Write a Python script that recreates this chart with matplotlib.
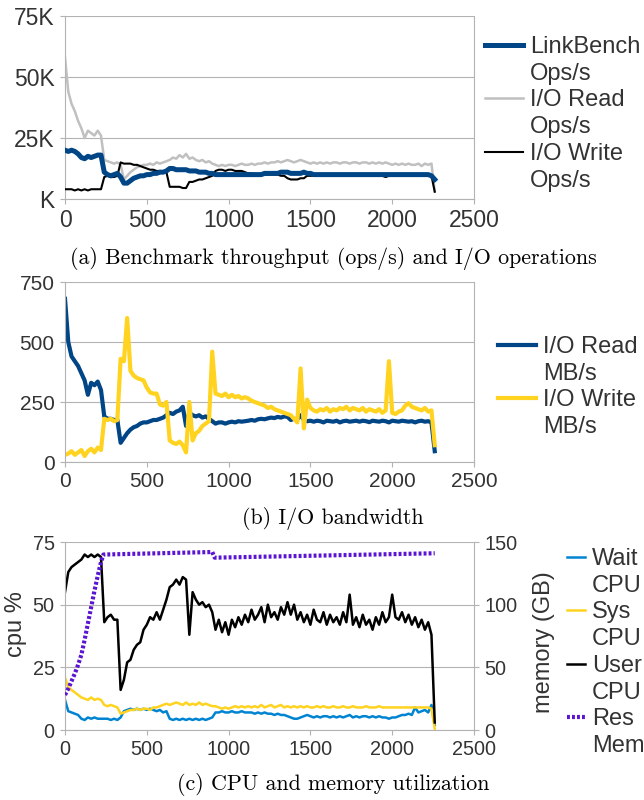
import numpy as np
import matplotlib
matplotlib.use("Agg")
import matplotlib.pyplot as plt
from matplotlib.lines import Line2D

plt.rcParams['font.family'] = ['Liberation Sans', 'DejaVu Sans']

# ---- data (sampled every 20 s) ----
STEP = 20

# (a) throughput, K ops/s
linkbench_ops = [20, 19.5, 20, 19.5, 18.5, 17, 16.5, 17.5, 17, 17.5,
                 18, 18, 11, 10, 9.5, 10, 10.5, 9, 6.5, 6.5,
                 7.5, 8.5, 9, 9.5, 9.5, 10, 10, 10.5, 10.5, 11,
                 11, 11.5, 12.5, 12.5, 12, 12, 12, 12, 11.5, 11.5,
                 11.5, 11, 11, 11, 10.5, 10.5, 10, 10, 10, 10,
                 10, 10, 10, 10, 10, 10, 10, 10, 10, 10,
                 10, 10.5, 10.5, 10.5, 10.5, 10.5, 11, 11, 11, 10.5,
                 10.5, 10.5, 10.5, 11, 10.5, 10.5, 10, 10, 10, 10,
                 10, 10, 10, 10, 10, 10, 10, 10, 10, 10,
                 10, 10, 10, 10, 10, 10, 10, 10, 10, 10,
                 10, 10, 10, 10, 10, 10, 10, 10, 10, 10,
                 10, 10, 9.5, 8]
read_ops = [58, 44, 39, 36, 32, 29, 25, 28, 27, 26,
            28, 26, 16, 15.5, 15, 14.5, 15, 14, 8, 9.5,
            11, 12, 13, 13.5, 14, 14, 14.5, 14, 15, 14.5,
            15, 15.5, 16, 17, 16.5, 18, 17, 18.5, 16.5, 17,
            16, 15.5, 16, 15, 15.5, 14.5, 14, 13.5, 14, 13.5,
            14, 14, 13.5, 14, 14.5, 14, 14, 14.5, 14, 14.5,
            14.5, 15, 14.5, 15, 15, 15.5, 15, 15.5, 16, 15.5,
            15, 15.5, 16, 15.5, 15, 14.5, 15, 14.5, 15, 14.5,
            15, 14.5, 15, 15, 14.5, 15, 15, 14.5, 15, 15,
            14.5, 15, 15, 14.5, 15, 14.5, 15, 14.5, 15, 14.5,
            14, 14.5, 14, 14.5, 14, 14.5, 14, 14, 14.5, 13.5,
            14.5, 14, 14.5, 3]
write_ops = [4, 4, 4, 3.5, 4, 3.5, 4, 3.5, 4, 4,
             4, 4, 9, 9.5, 9, 9, 9.5, 15, 14.5, 14.5,
             14.5, 14, 14, 13.5, 13, 12.5, 12, 12, 11.5, 11.5,
             11, 11, 5, 5, 5, 5, 4.5, 4.5, 7, 7,
             7.5, 8, 8, 8.5, 9, 9.5, 11.5, 12, 12, 11.5,
             12, 12, 11.5, 11.5, 11.5, 11, 10.5, 10.5, 10, 10,
             10, 10, 10, 10, 10, 10, 9.5, 9.5, 8.5, 8,
             8, 8, 8.5, 8.5, 9.5, 9.5, 9.5, 9.5, 9.5, 9.5,
             9.5, 9.5, 9.5, 9.5, 9.5, 9.5, 9.5, 9.5, 9.5, 9.5,
             9.5, 9.5, 9.5, 9.5, 9.5, 9.5, 9.5, 9.5, 9, 9.5,
             9.5, 9.5, 9.5, 9.5, 9.5, 9.5, 9.5, 9.5, 9.5, 9.5,
             9.5, 9.5, 9.5, 3]

# (b) bandwidth, MB/s
read_mb = [680, 500, 440, 420, 400, 370, 340, 280, 330, 320,
           335, 300, 190, 180, 180, 175, 175, 80, 100, 120,
           135, 145, 150, 160, 165, 165, 170, 175, 175, 180,
           185, 195, 205, 200, 210, 215, 230, 150, 205, 195,
           190, 195, 185, 190, 180, 170, 160, 165, 165, 160,
           165, 168, 165, 170, 168, 170, 172, 175, 172, 178,
           180, 178, 182, 185, 183, 188, 185, 190, 188, 175,
           180, 178, 195, 175, 170, 172, 168, 172, 170, 165,
           172, 170, 168, 172, 165, 170, 172, 168, 170, 172,
           168, 172, 170, 166, 172, 170, 168, 172, 170, 165,
           172, 170, 168, 172, 170, 168, 170, 165, 170, 172,
           168, 170, 165, 45]
write_mb = [30, 35, 45, 30, 40, 50, 25, 45, 55, 40,
            60, 50, 180, 175, 180, 170, 175, 430, 420, 600,
            380, 360, 350, 345, 340, 310, 290, 285, 285, 240,
            235, 250, 90, 80, 75, 85, 70, 40, 250, 90,
            120, 130, 150, 160, 170, 460, 285, 280, 275, 285,
            270, 280, 270, 275, 265, 270, 265, 255, 250, 245,
            240, 235, 225, 230, 220, 215, 210, 205, 200, 195,
            180, 165, 390, 140, 260, 225, 215, 210, 220, 215,
            225, 210, 220, 215, 225, 220, 230, 215, 225, 220,
            215, 225, 210, 220, 215, 210, 220, 205, 215, 420,
            205, 200, 210, 215, 235, 245, 230, 225, 220, 215,
            225, 210, 215, 70]

# (c) cpu %, memory GB
wait_cpu = [12, 7.5, 7, 6.5, 6, 4.5, 4, 5, 4.5, 5,
            4.5, 4.5, 4.5, 4.5, 4, 4.5, 4, 5, 7.5, 8,
            8.5, 8, 8.5, 8, 8.5, 8, 8.5, 8, 7.5, 8,
            7, 7.5, 4.5, 4, 4.5, 4, 4.5, 4, 4.5, 4,
            4.5, 4, 4.5, 4, 4.5, 5, 7, 7, 7.5, 7,
            7, 7.5, 7, 7, 7.5, 7, 7, 7, 6.5, 7,
            6.5, 7, 6.5, 6.5, 6, 6.5, 6, 6, 5.5, 5,
            4.5, 4.5, 5, 5.5, 6, 5.5, 5, 5.5, 5, 5.5,
            5.5, 5, 5.5, 5, 5.5, 5, 5.5, 6, 5, 5.5,
            5, 5.5, 5.5, 5, 5.5, 5, 5.5, 5, 5, 4.5,
            5, 5, 5.5, 6, 6, 6.5, 6, 9, 7, 7.5,
            8, 7, 10, 2]
sys_cpu = [21, 17, 16, 15, 14, 13, 12.5, 12, 13, 12,
           12.5, 12, 10, 9.5, 10, 9.5, 9, 6.5, 7, 7.5,
           8, 8, 8.5, 8, 8.5, 8.5, 8, 9, 9, 9.5,
           10, 10.5, 10, 10.5, 11, 10.5, 10, 11, 10, 10.5,
           10, 11, 10, 10.5, 10, 9.5, 9.5, 9, 8.5, 9,
           8.5, 9, 9.5, 9, 9.5, 9, 9.5, 9, 9.5, 9,
           10, 9, 9.5, 10, 9, 9.5, 10, 9, 9.5, 9,
           9.5, 9, 9.5, 9, 9.5, 9, 9, 9.5, 9, 9.5,
           9, 9, 9.5, 9, 9, 9.5, 9, 9, 9.5, 9,
           9, 9, 9.5, 9, 9, 9, 9.5, 9, 9, 9,
           9, 9, 9, 9, 9, 9, 9, 9, 9, 9,
           9, 9, 8.5, 0.5]
user_cpu = [55, 63, 65, 66, 67, 68, 70, 69, 70, 69,
            70, 69, 43, 45, 46, 44, 44, 16, 20, 27,
            28, 32, 34, 35, 40, 42, 45, 44, 47, 44,
            48, 52, 57, 58, 60, 58, 61, 60, 38, 55,
            52, 50, 51, 49, 50, 47, 40, 44, 39, 43,
            38, 44, 41, 45, 42, 46, 43, 48, 44, 46,
            49, 43, 50, 45, 47, 44, 49, 46, 51, 46,
            50, 44, 47, 43, 46, 42, 48, 44, 43, 47,
            42, 46, 43, 45, 42, 47, 43, 54, 42, 45,
            41, 46, 42, 44, 40, 45, 42, 47, 43, 45,
            54, 45, 44, 47, 43, 46, 42, 45, 41, 44,
            40, 43, 38, 3]
mem_t = [0, 20, 40, 60, 80, 100, 120, 140, 160, 180, 200, 220, 235, 900, 915, 2260]
res_mem = [28, 33, 39, 45, 52, 60, 72, 85, 98, 111, 123, 134, 140, 142, 137.5, 141]

t = np.arange(len(read_ops)) * STEP

xticks = [0, 500, 1000, 1500, 2000, 2500]
ops_ticks = [0, 25, 50, 75]
ops_labels = ['K', '25K', '50K', '75K']
mb_ticks = [0, 250, 500, 750]
cpu_ticks = [0, 25, 50, 75]
mem_ticks = [0, 50, 100, 150]

GRID = '#b3b3b3'
TXT = '#333333'
W, H = 644.0, 800.0


def style(ax, fs):
    ax.set_xlim(0, 2500)
    ax.set_xticks(xticks)
    ax.grid(axis='y', color=GRID, lw=0.8)
    ax.set_axisbelow(True)
    for s in ['left', 'bottom', 'right']:
        ax.spines[s].set_color(GRID)
        ax.spines[s].set_linewidth(0.8)
    ax.spines['top'].set_visible(False)
    ax.tick_params(color=GRID, labelcolor=TXT, length=3.5, width=0.8,
                   labelsize=fs, pad=4)


def legend(ax, handles, labels, x, y, fs, hl, sp):
    # one row per text line, handle only on the first line of each entry
    hs, ls = [], []
    for h, lab in zip(handles, labels):
        parts = lab.split('\n')
        hs.append(h)
        ls.append(parts[0])
        for p in parts[1:]:
            hs.append(Line2D([], [], color='none'))
            ls.append(p)
    leg = ax.legend(hs, ls, loc='upper left', bbox_to_anchor=(x / W, 1 - y / H),
                    bbox_transform=ax.figure.transFigure, frameon=False,
                    fontsize=fs, handlelength=hl, handletextpad=0.3,
                    labelspacing=sp, borderpad=0, borderaxespad=0)
    for txt in leg.get_texts():
        txt.set_color(TXT)
    return leg


def cap(fig, y, s):
    fig.text(333 / W, 1 - y / H, s, ha='center', va='center',
             fontfamily='cmr10', fontsize=15.8, color='black')


fig = plt.figure(figsize=(6.44, 8), dpi=100)

# (a)
ax1 = fig.add_axes([65 / W, 1 - 199 / H, 409 / W, 183 / H])
style(ax1, 16.5)
l_rd, = ax1.plot(t, read_ops, color='#c0c0c0', lw=1.8, zorder=2)
l_wr, = ax1.plot(t, write_ops, color='black', lw=1.5, zorder=3)
l_lb, = ax1.plot(t, linkbench_ops, color='#004586', lw=3.6, zorder=4)
ax1.set_ylim(0, 75)
ax1.set_yticks(ops_ticks)
ax1.set_yticklabels(ops_labels)
legend(ax1, [l_lb, l_rd, l_wr], ['LinkBench\nOps/s', 'I/O Read\nOps/s', 'I/O Write\nOps/s'],
       485, 36, 17, 1.6, 0.2)
cap(fig, 258, '(a) Benchmark throughput (ops/s) and I/O operations')

# (b)
ax2 = fig.add_axes([65 / W, 1 - 462 / H, 409 / W, 180 / H])
style(ax2, 15)
l_rmb, = ax2.plot(t, read_mb, color='#004586', lw=3)
l_wmb, = ax2.plot(t, write_mb, color='#ffd320', lw=3)
ax2.set_ylim(0, 750)
ax2.set_yticks(mb_ticks)
legend(ax2, [l_rmb, l_wmb], ['I/O Read\nMB/s', 'I/O Write\nMB/s'], 498, 336, 17, 1.6, 0.2)
cap(fig, 519, '(b) I/O bandwidth')

# (c)
ax3 = fig.add_axes([65 / W, 1 - 730 / H, 409 / W, 188 / H])
style(ax3, 14.3)
l_wait, = ax3.plot(t, wait_cpu, color='#0084d1', lw=1.8)
l_sys, = ax3.plot(t, sys_cpu, color='#ffd320', lw=1.8)
l_usr, = ax3.plot(t, user_cpu, color='black', lw=1.8)
ax3.set_ylim(0, 75)
ax3.set_yticks(cpu_ticks)
ax3.set_ylabel('cpu %', fontsize=17, color=TXT)
ax3.yaxis.set_label_coords(-0.093, 0.564)
ax3b = ax3.twinx()
l_mem, = ax3b.plot(mem_t, res_mem, color='#5a14d2', lw=3, linestyle=(0, (0.7, 0.5)))
ax3b.set_ylim(0, 150)
ax3b.set_yticks(mem_ticks)
for s in ax3b.spines.values():
    s.set_visible(False)
ax3b.tick_params(color=GRID, labelcolor=TXT, length=3.5, width=0.8, labelsize=14.3, pad=4)
ax3b.set_ylabel('memory (GB)', fontsize=17, color=TXT)
ax3b.yaxis.set_label_coords(1.145, 0.468)
legend(ax3b, [l_wait, l_sys, l_usr, l_mem],
       ['Wait\nCPU', 'Sys\nCPU', 'User\nCPU', 'Res\nMem'], 567, 548, 17, 0.76, 0.2)
cap(fig, 784, '(c) CPU and memory utilization')

fig.savefig('out.png', dpi=100)
